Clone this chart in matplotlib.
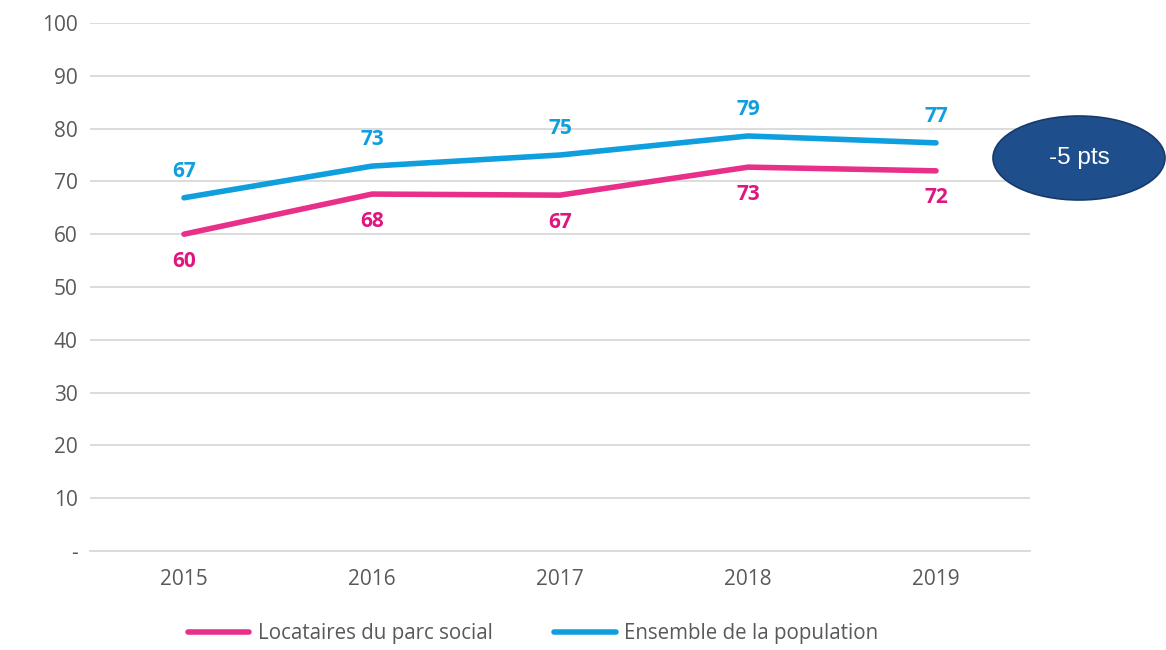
import matplotlib
matplotlib.use("Agg")
import matplotlib.pyplot as plt
from matplotlib.patches import Ellipse
from matplotlib.lines import Line2D

years = ["2015", "2016", "2017", "2018", "2019"]
locataires = [60.0, 67.6, 67.4, 72.7, 72.0]
ensemble = [66.9, 72.9, 75.0, 78.6, 77.3]
yticks = [0, 10, 20, 30, 40, 50, 60, 70, 80, 90, 100]
ytick_labels = ["-", "10", "20", "30", "40", "50", "60", "70", "80", "90", "100"]
annotation = "-5 pts"

PINK = "#E8308A"
BLUE = "#0F9EDE"
PINK_TXT = "#E0157F"
BLUE_TXT = "#0F9EDE"
GREY = "#595959"

plt.rcParams['font.family'] = ['Open Sans', 'DejaVu Sans']

W, H = 1166, 650
fig = plt.figure(figsize=(W/100, H/100), dpi=100)
ax = fig.add_axes([90/W, 1-551/H, 940/W, 528/H])

x = list(range(len(years)))
ax.plot(x, locataires, color=PINK, lw=4, solid_capstyle='round', zorder=3)
ax.plot(x, ensemble, color=BLUE, lw=4, solid_capstyle='round', zorder=3)

for i in x:
    ax.annotate(f"{locataires[i]:.0f}", (i, locataires[i]), xytext=(0, -19.5),
                textcoords='offset points', ha='center', va='center',
                color=PINK_TXT, fontsize=15, fontweight='bold')
    ax.annotate(f"{ensemble[i]:.0f}", (i, ensemble[i]), xytext=(0, 19),
                textcoords='offset points', ha='center', va='center',
                color=BLUE_TXT, fontsize=15, fontweight='bold')

ax.set_xlim(-0.5, len(years)-0.5)
ax.set_ylim(0, 100)
ax.set_yticks(yticks)
ax.set_yticklabels(ytick_labels)
ax.set_xticks(x)
ax.set_xticklabels(years)
ax.tick_params(axis='both', length=0, colors=GREY, labelsize=15)
ax.tick_params(axis='y', pad=9)
ax.tick_params(axis='x', pad=13)
ax.grid(axis='y', color='#D9D9D9', lw=1.3)
ax.set_axisbelow(True)
for s in ax.spines.values():
    s.set_visible(False)
ax.spines['bottom'].set_visible(True)
ax.spines['bottom'].set_color('#D9D9D9')
ax.spines['bottom'].set_linewidth(1.3)

# ellipse annotation in figure coords
ell = Ellipse((1079/W, 1-158/H), 172/W, 84/H, transform=fig.transFigure,
              facecolor='#1F4E8C', edgecolor='#173A69', lw=1.2, clip_on=False)
fig.add_artist(ell)
fig.text(1079/W, 1-158/H, annotation, ha='center', va='center', color='white',
         fontsize=17.5, family=['Liberation Sans', 'DejaVu Sans'])

handles = [Line2D([], [], color=PINK, lw=4, solid_capstyle='round'),
           Line2D([], [], color=BLUE, lw=4, solid_capstyle='round')]
fig.legend(handles, ["Locataires du parc social", "Ensemble de la population"],
           loc='center', bbox_to_anchor=(533/W, 1-634/H), ncol=2, frameon=False,
           fontsize=14.8, labelcolor=GREY, handlelength=3.0, columnspacing=3,
           handletextpad=0.4)

fig.savefig("out.png", dpi=100)
